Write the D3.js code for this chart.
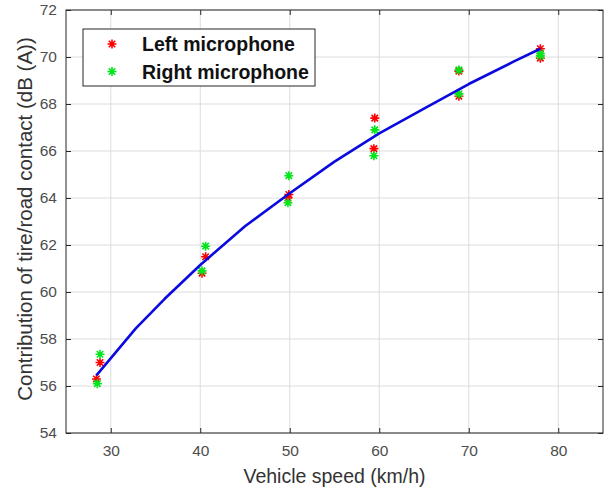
<!DOCTYPE html>
<html>
<head>
<meta charset="utf-8">
<script src="https://cdn.jsdelivr.net/npm/d3@7"></script>
<style>
  html, body { margin: 0; padding: 0; background: #ffffff; }
  svg { display: block; }
</style>
</head>
<body>
<script>
// ---- data ----
const leftSpeed  = [28.4, 28.8, 40.2, 40.6, 49.8, 49.9, 59.4, 59.5, 68.9, 68.9, 78.0, 78.0];
const leftLevel  = [56.3, 57.0, 60.8, 61.5, 64.0, 64.15, 66.1, 67.4, 68.33, 69.4, 69.95, 70.35];
const rightSpeed = [28.5, 28.8, 40.2, 40.6, 49.8, 49.9, 59.4, 59.5, 68.9, 68.9, 78.0, 78.0];
const rightLevel = [56.1, 57.35, 60.9, 61.95, 63.8, 64.95, 65.8, 66.9, 68.43, 69.45, 70.05, 70.15];
const fitSpeed   = [28.4, 32.8, 36, 40, 45, 50, 55, 60, 65, 70, 75, 78];
const fitLevel   = [56.45, 58.45, 59.7, 61.15, 62.8, 64.2, 65.55, 66.75, 67.8, 68.85, 69.8, 70.35];
const xTicks = [30, 40, 50, 60, 70, 80];
const yTicks = [54, 56, 58, 60, 62, 64, 66, 68, 70, 72];
const legendLabels = ["Left microphone", "Right microphone"];
const xTitle = "Vehicle speed (km/h)";
const yTitle = "Contribution of tire/road contact (dB (A))";

// ---- layout ----
const W = 612, H = 490;
const m = { left: 66, right: 9, top: 10, bottom: 57 };
const iw = W - m.left - m.right, ih = H - m.top - m.bottom;
const font = "'Liberation Sans', Arial, Helvetica, sans-serif";
const axisColor = "#262626";
const tickText = "#4d4d4d";

const svg = d3.select("body").append("svg").attr("width", W).attr("height", H);
const g = svg.append("g").attr("transform", `translate(${m.left},${m.top})`);

const x = d3.scaleLinear().domain([25, 85]).range([0, iw]);
const y = d3.scaleLinear().domain([54, 72]).range([ih, 0]);

// grid
g.append("g").selectAll("line").data(xTicks).join("line")
  .attr("x1", d => x(d)).attr("x2", d => x(d)).attr("y1", 0).attr("y2", ih)
  .attr("stroke", "#dcdcdc").attr("stroke-width", 1);
g.append("g").selectAll("line").data(yTicks).join("line")
  .attr("x1", 0).attr("x2", iw).attr("y1", d => y(d)).attr("y2", d => y(d))
  .attr("stroke", "#dcdcdc").attr("stroke-width", 1);

// axes
function styleAxis(sel) {
  sel.select(".domain").remove();
  sel.selectAll(".tick line").attr("stroke", axisColor);
  sel.selectAll(".tick text").attr("fill", tickText).attr("font-family", font).attr("font-size", 15.5);
}
const xAxis = g.append("g").attr("transform", `translate(0,${ih})`)
  .call(d3.axisBottom(x).tickValues(xTicks).tickSize(-5).tickPadding(12).tickFormat(d3.format("d")));
styleAxis(xAxis);
const yAxis = g.append("g")
  .call(d3.axisLeft(y).tickValues(yTicks).tickSize(-5).tickPadding(9).tickFormat(d3.format("d")));
styleAxis(yAxis);
const xTop = g.append("g").call(d3.axisTop(x).tickValues(xTicks).tickSize(-5).tickFormat(""));
xTop.select(".domain").remove(); xTop.selectAll(".tick line").attr("stroke", axisColor);
const yRight = g.append("g").attr("transform", `translate(${iw},0)`)
  .call(d3.axisRight(y).tickValues(yTicks).tickSize(-5).tickFormat(""));
yRight.select(".domain").remove(); yRight.selectAll(".tick line").attr("stroke", axisColor);

g.append("rect").attr("x", 0).attr("y", 0).attr("width", iw).attr("height", ih)
  .attr("fill", "none").attr("stroke", axisColor).attr("stroke-width", 1);

// asterisk marker
function star(r) {
  const k = r * 0.72;
  return `M${-r},0H${r}M0,${-r}V${r}M${-k},${-k}L${k},${k}M${-k},${k}L${k},${-k}`;
}
const leftPts = leftSpeed.map((s, i) => [s, leftLevel[i]]);
const rightPts = rightSpeed.map((s, i) => [s, rightLevel[i]]);

g.append("g").selectAll("path").data(leftPts).join("path")
  .attr("d", star(4.5)).attr("transform", d => `translate(${x(d[0])},${y(d[1])})`)
  .attr("stroke", "#ff0000").attr("stroke-width", 1.6).attr("fill", "none");
g.append("g").selectAll("path").data(rightPts).join("path")
  .attr("d", star(4.5)).attr("transform", d => `translate(${x(d[0])},${y(d[1])})`)
  .attr("stroke", "#00e61a").attr("stroke-width", 1.6).attr("fill", "none");

// fit line
const fitPts = fitSpeed.map((s, i) => [s, fitLevel[i]]);
g.append("path").datum(fitPts)
  .attr("d", d3.line().x(d => x(d[0])).y(d => y(d[1])).curve(d3.curveLinear))
  .attr("fill", "none").attr("stroke", "#0a0ae0").attr("stroke-width", 2.6)
  .attr("stroke-linejoin", "round");

// legend
const lg = svg.append("g").attr("transform", "translate(83,29)");
lg.append("rect").attr("width", 232).attr("height", 57).attr("fill", "#fff")
  .attr("stroke", axisColor).attr("stroke-width", 1);
const legColors = ["#ff0000", "#00e61a"];
legendLabels.forEach((lab, i) => {
  const cy = 15 + i * 27.5;
  lg.append("path").attr("d", star(4.5)).attr("transform", `translate(29,${cy})`)
    .attr("stroke", legColors[i]).attr("stroke-width", 1.6).attr("fill", "none");
  lg.append("text").attr("x", 59).attr("y", cy).attr("dy", "0.36em")
    .attr("font-family", font).attr("font-weight", "bold").attr("font-size", 19.5)
    .attr("fill", "#111").text(lab);
});

// titles
svg.append("text").attr("x", m.left + iw / 2).attr("y", 483).attr("text-anchor", "middle")
  .attr("font-family", font).attr("font-size", 19.5).attr("fill", "#333").text(xTitle);
svg.append("text").attr("transform", `translate(32,219) rotate(-90)`)
  .attr("text-anchor", "middle").attr("font-family", font).attr("font-size", 20.5)
  .attr("fill", "#333").text(yTitle);
</script>
</body>
</html>
